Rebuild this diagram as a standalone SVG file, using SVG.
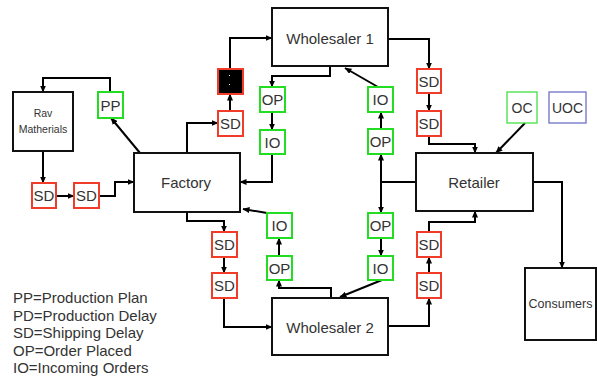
<svg xmlns="http://www.w3.org/2000/svg" width="597" height="383" viewBox="0 0 597 383">
<defs>
<marker id="ah" markerUnits="userSpaceOnUse" markerWidth="7" markerHeight="6" refX="6.5" refY="3" orient="auto">
<path d="M0,0 L7,3 L0,6 z" fill="#000"/>
</marker>
<style>
.main rect{fill:#fff;stroke:#111;stroke-width:2}
.sd rect{fill:#fff;stroke:#f03c28;stroke-width:2}
.gr rect{fill:#fff;stroke:#22dd22;stroke-width:2}
text{font-family:"Liberation Sans",Arial,sans-serif;fill:#333;text-anchor:middle;dominant-baseline:central}
.t14{font-size:15px}
.t15{font-size:15px}
.conn path{fill:none;stroke:#000;stroke-width:2}
.conn .a{marker-end:url(#ah)}
.legend text{font-size:15px;text-anchor:start;dominant-baseline:auto}
</style>
</defs>
<rect x="0" y="0" width="597" height="383" fill="#fff"/>
<g class="conn" id="connectors">
<path class="a" d="M110,92 V78 H43 V92"/>
<path class="a" d="M43,151 V183"/>
<path class="a" d="M56,196 H74"/>
<path class="a" d="M99,196 H115 V182 H134"/>
<path class="a" d="M140,153 L111,118"/>
<path class="a" d="M187,153 V123 H218"/>
<path class="a" d="M230,111 V94"/>
<path class="a" d="M230,69 V38 H272"/>
<path class="a" d="M330,66 V76 H272 V87"/>
<path class="a" d="M272,112 V130"/>
<path class="a" d="M272,154 V182 H240"/>
<path class="a" d="M378,87 L345,68"/>
<path class="a" d="M388,39 H429 V69"/>
<path class="a" d="M429,93 V111"/>
<path class="a" d="M429,136 V144 H475 V153"/>
<path class="a" d="M525,123 L496,153"/>
<path class="a" d="M381,129 V112"/>
<path d="M416,182 H381"/>
<path class="a" d="M381,182 V154"/>
<path class="a" d="M381,182 V213"/>
<path class="a" d="M381,238 V256"/>
<path class="a" d="M382,280 L340,297"/>
<path class="a" d="M187,212 V221 H224 V232"/>
<path class="a" d="M224,257 V273"/>
<path class="a" d="M224,298 V327 H272"/>
<path class="a" d="M331,298 V288 H279 V280"/>
<path class="a" d="M279,256 V238"/>
<path class="a" d="M267,213 L243,209"/>
<path class="a" d="M388,326 H429 V298"/>
<path class="a" d="M429,273 V257"/>
<path class="a" d="M429,232 V222 H475 V211"/>
<path class="a" d="M533,182 H562 V268"/>
</g>
<g id="rav" class="main"><rect x="13" y="92" width="60" height="59"/><text x="43" y="113" style="font-size:10.5px">Rav</text><text x="43" y="129" style="font-size:10.5px">Matherials</text></g>
<g id="pp" class="gr"><rect x="98" y="92" width="25" height="26"/><text class="t14" x="110.5" y="105">PP</text></g>
<g id="sd-a" class="sd"><rect x="32" y="183" width="24" height="25"/><text class="t14" x="44" y="195.5">SD</text></g>
<g id="sd-b" class="sd"><rect x="74" y="183" width="25" height="25"/><text class="t14" x="86.5" y="195.5">SD</text></g>
<g id="factory" class="main"><rect x="134" y="153" width="106" height="59"/><text class="t15" x="186" y="182">Factory</text></g>
<g id="sd-f" class="sd"><rect x="218" y="111" width="25" height="25"/><text class="t14" x="230.5" y="123.5">SD</text></g>
<g id="pd-black"><rect x="218" y="69" width="25" height="25" fill="#000" stroke="#f03c28" stroke-width="2"/><rect x="229" y="75" width="1" height="1" fill="#fff"/><rect x="229" y="84" width="1" height="1" fill="#fff"/></g>
<g id="w1" class="main"><rect x="272" y="8" width="116" height="58"/><text class="t15" x="330" y="38">Wholesaler 1</text></g>
<g id="op-1" class="gr"><rect x="260" y="87" width="25" height="25"/><text class="t14" x="272.5" y="99.5">OP</text></g>
<g id="io-1" class="gr"><rect x="260" y="130" width="25" height="24"/><text class="t14" x="272.5" y="142">IO</text></g>
<g id="io-2" class="gr"><rect x="368" y="87" width="25" height="25"/><text class="t14" x="380.5" y="99.5">IO</text></g>
<g id="op-2" class="gr"><rect x="368" y="129" width="25" height="25"/><text class="t14" x="380.5" y="141.5">OP</text></g>
<g id="sd-r1" class="sd"><rect x="417" y="69" width="24" height="24"/><text class="t14" x="429" y="81">SD</text></g>
<g id="sd-r2" class="sd"><rect x="417" y="111" width="24" height="25"/><text class="t14" x="429" y="123.5">SD</text></g>
<g id="retailer" class="main"><rect x="416" y="153" width="117" height="58"/><text class="t15" x="474" y="182">Retailer</text></g>
<g id="oc"><rect x="507" y="92" width="30" height="31" fill="#fff" stroke="#44e044" stroke-width="1.3"/><text x="522" y="107.5" style="font-size:14px">OC</text></g>
<g id="uoc"><rect x="549" y="92" width="37" height="31" fill="#fff" stroke="#7070c8" stroke-width="1.3"/><text x="567.5" y="107.5" style="font-size:14px">UOC</text></g>
<g id="sd-l1" class="sd"><rect x="212" y="232" width="25" height="25"/><text class="t14" x="224.5" y="244.5">SD</text></g>
<g id="sd-l2" class="sd"><rect x="212" y="273" width="25" height="25"/><text class="t14" x="224.5" y="285.5">SD</text></g>
<g id="io-3" class="gr"><rect x="267" y="213" width="25" height="25"/><text class="t14" x="279.5" y="225.5">IO</text></g>
<g id="op-3" class="gr"><rect x="267" y="256" width="25" height="24"/><text class="t14" x="279.5" y="268">OP</text></g>
<g id="op-4" class="gr"><rect x="368" y="213" width="25" height="25"/><text class="t14" x="380.5" y="225.5">OP</text></g>
<g id="io-4" class="gr"><rect x="368" y="256" width="25" height="24"/><text class="t14" x="380.5" y="268">IO</text></g>
<g id="w2" class="main"><rect x="272" y="298" width="116" height="57"/><text class="t15" x="330" y="327">Wholesaler 2</text></g>
<g id="sd-r3" class="sd"><rect x="417" y="232" width="24" height="25"/><text class="t14" x="429" y="244.5">SD</text></g>
<g id="sd-r4" class="sd"><rect x="417" y="273" width="24" height="25"/><text class="t14" x="429" y="285.5">SD</text></g>
<g id="consumers" class="main"><rect x="525" y="268" width="71" height="72"/><text x="560.5" y="304" style="font-size:12.5px">Consumers</text></g>
<g id="legend" class="legend">
<text x="13" y="303">PP=Production Plan</text>
<text x="13" y="320.5">PD=Production Delay</text>
<text x="13" y="338">SD=Shipping Delay</text>
<text x="13" y="355.5">OP=Order Placed</text>
<text x="13" y="373">IO=Incoming Orders</text>
</g>
</svg>
